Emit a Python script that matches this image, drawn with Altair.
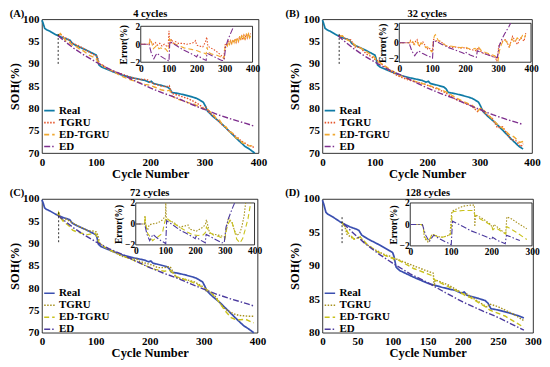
import altair as alt
import pandas as pd

FONT = "Liberation Serif"
SERIES = ["Real", "TGRU", "ED-TGRU", "ED"]
COLORS_AB = ["#0f7ba6", "#e5552b", "#f0a830", "#7e2f8e"]
COLORS_CD = ["#3a4fb0", "#a8921e", "#c9c21a", "#4b3a9e"]
DASHES = [[1, 0], [1.5, 1.5], [5, 3], [6, 2, 1.5, 2]]

# ---------------- shared measured capacity (Real) ----------------
REAL_CYCLE = [0, 2, 5, 8, 15, 25, 30, 40, 48, 52, 56, 65, 80, 95, 100, 102, 105, 110, 120, 130,
              150, 170, 190, 198, 202, 206, 220, 232, 236, 240, 250, 265, 280, 287, 290, 298, 302,
              306, 315, 330, 345, 360, 375, 383, 393]
REAL_SOH = [99.8, 99.2, 98.0, 97.7, 97.3, 96.6, 96.3, 95.8, 95.5, 95.3, 94.6, 94.0, 93.2, 92.3, 92.0,
            91.4, 89.8, 89.3, 88.8, 88.3, 87.4, 86.8, 86.3, 85.9, 86.1, 85.6, 85.2, 84.8, 84.4, 83.6,
            83.4, 83.0, 82.5, 82.2, 82.0, 81.4, 80.5, 79.4, 78.3, 76.8, 75.0, 73.2, 71.5, 70.9, 70.0]

# ---------------- ED (same in every panel) ----------------
ED_CYCLE = [30, 45, 60, 80, 100, 125, 150, 175, 200, 225, 250, 275, 287, 300, 325, 350, 375, 383, 393]
ED_SOH = [96.3, 94.8, 93.4, 91.8, 90.4, 88.8, 87.5, 86.0, 84.6, 83.4, 82.3, 81.0, 80.4, 79.8, 78.6,
          77.6, 76.7, 76.4, 76.0]
ED_ERR_CYCLE = [0, 30, 33, 38, 47, 52, 58, 70, 85, 97, 101, 104, 115, 130, 150, 170, 190, 200, 203,
                215, 234, 237, 250, 270, 290, 298, 304, 312, 320, 327, 333, 338]
ED_ERR = [0, 0, -0.4, -1.0, -1.6, -1.3, -1.0, -1.3, -1.6, -1.8, -1.9, 0.3, 0.1, -0.2, -0.6, -0.9,
          -1.2, -1.4, -1.2, -1.5, -1.8, -1.0, -1.2, -1.5, -1.8, -1.8, -0.3, 0.5, 1.1, 1.6, 2.0, 2.4]

# ---------------- (A) 4 cycles ----------------
A_TGRU_CYCLE = [30, 34, 40, 47, 55, 62, 70, 78, 85, 92, 98, 102, 106, 112, 120, 130, 140, 150, 160, 170,
                180, 190, 195, 200, 210, 220, 230, 235, 240, 250, 260, 270, 280, 290, 297, 303, 308,
                314, 320, 326, 332, 338, 344, 350, 356, 362, 368, 374, 380, 386, 393]
A_TGRU_SOH = [96.3, 96.7, 96.0, 95.6, 94.7, 94.4, 93.9, 93.4, 92.8, 92.3, 91.9, 91.7, 90.0, 89.7, 89.0,
              88.4, 88.0, 87.6, 87.2, 86.8, 86.5, 86.5, 86.4, 85.9, 85.4, 85.0, 84.9, 85.1, 83.4, 83.0,
              82.6, 82.2, 81.6, 80.9, 80.2, 80.3, 79.2, 78.6, 77.9, 77.2, 76.4, 75.9, 75.1, 74.6, 73.9,
              73.4, 72.7, 72.3, 71.8, 71.6, 71.2]
A_EDTGRU_CYCLE = [30, 34, 40, 45, 50, 56, 62, 70, 78, 86, 94, 100, 104, 110, 118, 126, 134, 142, 150,
                  160, 170, 180, 190, 200, 210, 220, 230, 236, 240, 250, 260, 270, 280, 290, 298, 304,
                  310, 316, 322, 328, 334, 340, 346, 352, 358, 364, 370, 376, 382, 388, 393]
A_EDTGRU_SOH = [96.3, 96.8, 95.9, 95.0, 94.9, 94.2, 94.0, 93.3, 92.8, 92.0, 91.6, 91.2, 90.4, 89.8,
                89.0, 88.7, 88.1, 87.6, 87.1, 86.6, 86.2, 85.8, 85.4, 85.2, 84.7, 84.2, 83.9, 84.1,
                82.8, 82.1, 81.8, 81.3, 81.0, 80.4, 79.9, 80.1, 79.3, 78.8, 77.7, 77.4, 76.2, 75.9,
                74.8, 74.5, 73.4, 73.2, 72.3, 72.1, 71.6, 71.6, 71.3]
A_TGRU_ERR_CYCLE = [0, 30, 33, 38, 45, 52, 60, 68, 76, 84, 92, 98, 101, 103, 106, 110, 116, 124, 135,
                    150, 165, 180, 190, 196, 200, 210, 222, 232, 236, 240, 250, 262, 275, 287, 297,
                    301, 305, 309, 313, 317, 321, 325, 329, 333, 337, 341, 345, 349, 353, 357, 361,
                    365, 369, 373, 377, 381, 385, 389, 393]
A_TGRU_ERR = [0, 0, 0.5, 0.2, 0.0, 0.2, -0.1, 0.1, -0.2, 0.0, -0.2, -0.3, 1.5, 0.5, 0.2, 0.6, 0.1, 0.3,
              0.1, 0.1, 0.0, 0.1, 0.2, 0.4, -0.1, -0.2, -0.3, 0.3, 0.8, -0.2, -0.4, -0.6, -0.9, -1.2,
              -1.6, -0.1, 0.1, -0.2, 0.3, 0.0, 0.4, 0.1, 0.5, 0.2, 0.6, 0.2, 0.7, 0.3, 0.8, 0.4, 0.9,
              0.5, 1.0, 0.6, 1.1, 0.7, 1.2, 0.8, 1.2]
A_EDTGRU_ERR_CYCLE = [0, 30, 34, 40, 45, 52, 58, 65, 72, 80, 88, 96, 100, 103, 108, 115, 125, 140, 155,
                      170, 185, 200, 215, 228, 234, 237, 242, 255, 270, 285, 298, 302, 306, 310, 314,
                      318, 322, 326, 330, 334, 338, 342, 346, 350, 354, 358, 362, 366, 370, 374, 378,
                      382, 386, 390, 394]
A_EDTGRU_ERR = [0, 0, 0.6, 0.1, -0.5, -0.3, -0.1, -0.5, -0.4, -0.6, -0.5, -0.8, -0.8, 0.6, 0.4, 0.2,
                0.0, -0.2, -0.4, -0.5, -0.6, -0.7, -0.9, -1.0, -1.1, -0.3, -0.9, -1.1, -1.2, -1.4,
                -1.6, -0.3, 0.0, -0.2, 0.3, 0.0, 0.5, 0.1, 0.6, 0.2, 0.7, 0.3, 0.8, 0.3, 0.9, 0.4,
                1.0, 0.5, 1.1, 0.5, 1.2, 0.6, 1.3, 0.7, 1.0]

# ---------------- (B) 32 cycles ----------------
B_TGRU_CYCLE = [32, 36, 44, 54, 62, 72, 84, 94, 99, 104, 109, 124, 144, 164, 194, 214, 234, 239, 254,
                270, 284, 296, 302, 309, 324, 334, 344, 359, 369, 379, 383]
B_TGRU_SOH = [96.2, 96.4, 95.6, 95.4, 93.8, 93.7, 92.2, 91.6, 91.1, 90.8, 90.4, 88.8, 87.3, 86.4, 85.5,
              84.6, 83.6, 83.2, 82.1, 81.3, 80.6, 79.3, 80.1, 79.0, 77.8, 75.7, 75.9, 73.1, 72.8, 71.4,
              72.1]
B_EDTGRU_CYCLE = [32, 38, 46, 56, 64, 74, 86, 96, 100, 105, 110, 126, 146, 166, 196, 216, 232, 240, 256,
                  272, 286, 297, 303, 311, 326, 336, 346, 356, 366, 376, 383]
B_EDTGRU_SOH = [96.2, 96.3, 95.5, 94.9, 94.0, 93.5, 92.6, 91.8, 91.4, 90.5, 90.3, 89.0, 87.5, 86.5,
                85.4, 84.7, 83.9, 83.5, 82.3, 81.4, 80.7, 79.5, 80.2, 79.2, 77.4, 76.2, 75.4, 74.2,
                73.6, 72.4, 72.6]
B_TGRU_ERR_CYCLE = [0, 32, 34, 40, 44, 50, 54, 58, 62, 68, 72, 78, 84, 90, 94, 99, 102, 104, 109, 115,
                    124, 134, 144, 154, 164, 174, 184, 194, 204, 214, 224, 234, 239, 246, 254, 264,
                    274, 284, 292, 296, 299, 302, 309, 316, 324, 330, 334, 340, 344, 352, 359, 364,
                    369, 374, 379, 384]
B_TGRU_ERR = [0, 0, 0.3, 0.0, -0.2, 0.2, 0.4, -0.1, -0.4, 0.0, 0.1, -0.3, -0.8, -0.6, -0.8, -1.0, -0.6,
              0.4, 0.3, 0.2, 0.2, -0.1, -0.4, -0.5, -0.6, -0.5, -0.7, -0.6, -0.7, -0.8, -0.9, -1.0,
              -0.6, -1.0, -1.25, -1.4, -1.5, -1.7, -1.8, -2.3, -1.5, -0.4, 0.0, 0.3, 0.4, -0.2, -0.6,
              0.3, 0.8, 0.2, -0.2, 0.3, 0.6, 0.4, 0.2, 1.2]
B_EDTGRU_ERR_CYCLE = [0, 32, 36, 42, 48, 55, 60, 66, 74, 80, 86, 92, 98, 101, 104, 107, 110, 118, 128,
                      140, 155, 170, 185, 200, 215, 230, 236, 240, 250, 262, 276, 290, 297, 300, 304,
                      310, 318, 326, 334, 342, 350, 358, 366, 374, 380, 384]
B_EDTGRU_ERR = [0, 0, 0.4, 0.1, -0.3, 0.1, -0.5, 0.0, -0.2, -0.6, -0.5, -0.8, -1.1, -1.0, 0.4, 0.9,
                1.0, 0.3, 0.0, -0.3, -0.4, -0.5, -0.6, -0.5, -0.8, -0.7, -0.9, -0.5, -1.0, -1.2, -1.4,
                -1.6, -1.9, -2.2, -1.0, -0.2, 0.4, 0.1, -0.5, 0.5, 0.0, 0.6, 0.3, 0.9, 0.6, 1.0]

# ---------------- (C) 72 cycles ----------------
C_TGRU_CYCLE = [30, 31, 34, 40, 45, 55, 68, 85, 96, 101, 104, 107, 115, 130, 147, 165, 176, 181, 195,
                204, 215, 227, 235, 238, 249, 265, 283, 300, 306, 312, 318, 323, 332, 340, 350, 357,
                365, 374, 383, 393]
C_TGRU_SOH = [96.3, 97.0, 95.8, 95.2, 95.5, 94.8, 93.9, 92.9, 92.8, 92.6, 91.8, 90.1, 89.3, 88.4, 87.2,
              86.6, 86.5, 86.0, 85.5, 85.2, 84.6, 84.6, 84.8, 84.8, 82.4, 82.0, 81.4, 80.2, 79.2, 79.3,
              78.5, 78.0, 76.3, 75.3, 74.6, 74.2, 73.9, 73.8, 73.7, 73.7]
C_EDTGRU_CYCLE = [30, 31, 35, 40, 50, 57, 65, 74, 85, 96, 100, 102, 106, 115, 130, 159, 175, 193, 210,
                  227, 238, 249, 261, 280, 300, 312, 323, 332, 340, 351, 360, 368, 378, 393]
C_EDTGRU_SOH = [96.3, 96.9, 95.7, 94.9, 94.0, 93.0, 92.6, 92.3, 92.0, 92.3, 92.2, 91.5, 90.2, 89.3,
                88.3, 86.8, 86.0, 85.0, 84.2, 83.8, 84.0, 82.6, 82.1, 81.3, 80.1, 79.2, 77.8, 76.3,
                74.9, 73.4, 72.9, 72.9, 73.0, 72.2]
C_TGRU_ERR_CYCLE = [0, 30, 31, 34, 40, 45, 55, 68, 85, 96, 100, 101, 103, 115, 130, 147, 165, 176, 181,
                    195, 204, 215, 227, 235, 238, 249, 265, 283, 300, 306, 312, 318, 323, 332, 340,
                    350, 357, 365, 370]
C_TGRU_ERR = [0, 0, 0.8, -0.3, -0.6, -0.1, 0.0, 0.05, 0.25, 0.6, 0.7, 2.0, 0.4, 0.3, 0.1, -0.3, -0.2,
              -0.1, -0.5, -0.6, -0.7, -0.5, -0.3, 0.0, 0.4, -0.9, -1.0, -1.1, -1.25, -0.3, 0.6, 0.3,
              0.25, -0.6, -1.1, -0.9, -0.3, 0.8, 2.0]
C_EDTGRU_ERR_CYCLE = [0, 30, 31, 35, 40, 50, 57, 65, 74, 85, 91, 96, 100, 102, 115, 130, 159, 175, 193,
                      210, 227, 235, 238, 249, 261, 280, 300, 306, 312, 318, 323, 332, 340, 351, 360,
                      368, 378, 387]
C_EDTGRU_ERR = [0, 0, 0.7, -0.2, -0.9, -1.3, -1.6, -1.4, -1.25, -1.0, -0.7, 0.0, 0.4, 0.6, 0.3, 0.0,
                -0.5, -0.8, -1.05, -1.1, -1.05, -0.8, -0.3, -0.8, -1.05, -1.2, -1.45, -0.5, 0.05, 0.4,
                0.3, -0.6, -1.45, -1.8, -1.4, -0.6, 0.5, 2.0]

# ---------------- (D) 128 cycles ----------------
D_TGRU_CYCLE = [28, 30, 32, 35, 45, 54, 60, 75, 90, 98, 102, 106, 130, 150, 158, 159, 161, 180, 198,
                203, 206, 220, 235, 238, 250, 270, 287]
D_TGRU_SOH = [96.4, 96.3, 95.9, 94.7, 94.0, 94.3, 93.4, 92.4, 91.6, 91.4, 90.9, 91.0, 90.0, 89.2, 88.9,
              87.0, 87.9, 87.1, 86.0, 85.7, 85.8, 84.8, 83.8, 84.3, 83.9, 82.9, 81.8]
D_EDTGRU_CYCLE = [28, 32, 36, 45, 54, 65, 80, 95, 100, 103, 106, 130, 155, 160, 200, 204, 210, 235, 238,
                  260, 287]
D_EDTGRU_SOH = [96.4, 95.9, 95.0, 94.0, 94.3, 93.1, 92.0, 91.3, 91.1, 91.1, 91.0, 89.6, 88.6, 87.9,
                85.8, 85.5, 85.3, 83.7, 83.4, 82.5, 80.8]
D_TGRU_ERR_CYCLE = [0, 28, 32, 35, 45, 54, 60, 75, 90, 98, 102, 106, 130, 150, 158, 159, 161, 180, 198,
                    203, 206, 220, 235, 238, 250, 270, 287]
D_TGRU_ERR = [0, 0, -0.2, -1.3, -1.7, -0.9, -1.0, -1.2, -1.1, -0.9, 1.1, 1.3, 1.7, 1.8, 1.8, -0.2, 0.9,
              0.5, 0.0, -0.4, 0.0, -0.4, -0.9, 0.7, 0.5, 0.0, -0.4]
D_EDTGRU_ERR_CYCLE = [0, 28, 32, 36, 45, 54, 65, 80, 95, 100, 103, 106, 130, 155, 160, 200, 204, 210,
                      235, 238, 260, 287]
D_EDTGRU_ERR = [0, 0, -0.3, -1.2, -1.6, -0.9, -1.1, -1.2, -1.0, -0.9, 1.0, 1.2, 1.3, 1.3, 0.8, -0.1,
                -0.5, -0.3, -0.9, -0.2, -0.7, -1.4]


def long_df(items, col):
    rows = []
    for name, xs, ys in items:
        for i, (x, y) in enumerate(zip(xs, ys)):
            rows.append({"series": name, "cycle": x, col: y, "idx": i})
    return pd.DataFrame(rows)


def cut(xs, ys, xmax, ymax=1e9):
    px, py = [], []
    for x, y in zip(xs, ys):
        if x <= xmax and y <= ymax + 1e-9:
            px.append(x)
            py.append(y)
    return px, py


def make_panel(p):
    W, H = p["w"], p["h"]
    cs = alt.Scale(domain=SERIES, range=p["colors"])
    ds = alt.Scale(domain=SERIES, range=DASHES)
    leg = alt.Legend(title=None, orient="none", legendX=1, legendY=p["legy"], symbolType="stroke",
                     symbolSize=110, symbolStrokeWidth=1.6, labelFont=FONT, labelFontSize=11,
                     labelFontWeight="bold", labelColor="black", rowPadding=0, labelOffset=3,
                     padding=0)
    x_main = alt.X("cycle:Q", scale=alt.Scale(domain=[0, p["xmax"]], nice=False, zero=False),
                   axis=alt.Axis(values=p["xticks"], title="Cycle Number", orient="bottom",
                                 labelFlush=False, labelOverlap=False))
    y_main = alt.Y("value:Q", scale=alt.Scale(domain=[p["ymin"], 100], nice=False, zero=False),
                   axis=alt.Axis(values=p["yticks"], title="SOH(%)", orient="left", titlePadding=1,
                                 labelOverlap=False))
    rx, ry = cut(REAL_CYCLE, REAL_SOH, p["end"])
    ex, ey = cut(ED_CYCLE, ED_SOH, p["end"])
    main_df = long_df([("Real", rx, ry), ("TGRU", p["tgru"][0], p["tgru"][1]),
                       ("ED-TGRU", p["edtgru"][0], p["edtgru"][1]), ("ED", ex, ey)], "value")
    layers = []
    for s, sw in zip(SERIES, [1.7, 1.4, 1.4, 1.4]):
        layers.append(
            alt.Chart(main_df).transform_filter(alt.datum.series == s)
            .mark_line(strokeWidth=sw)
            .encode(x=x_main, y=y_main,
                    color=alt.Color("series:N", scale=cs, legend=leg),
                    strokeDash=alt.StrokeDash("series:N", scale=ds, legend=leg),
                    order=alt.Order("idx:Q"))
        )
    rule_df = pd.DataFrame({"cycle": [p["start"]], "value": [p["vline"][0]], "value2": [p["vline"][1]]})
    rule = alt.Chart(rule_df).mark_rule(color="black", strokeWidth=0.8, strokeDash=[2, 2]).encode(
        x=x_main, y=y_main, y2="value2:Q")
    txt_df = pd.DataFrame({"t": [p["label"], p["title"]], "px": [p["lx"], W / 2]})
    texts = alt.Chart(txt_df).mark_text(
        font=FONT, fontSize=10.5, fontWeight="bold", color="black", align="center",
        baseline="middle").encode(text="t:N", x=alt.X("px:Q", scale=None), y=alt.value(-5.5))
    main = alt.layer(*layers, rule, texts)

    xl, xr = p["ix"]
    yt, yb = p["iy"]
    em = p["emax"]
    x_in = alt.X("cycle:Q", scale=alt.Scale(domain=[0, p["xmax"]], range=[xl, xr], nice=False, zero=False),
                 axis=alt.Axis(values=p["ixticks"], orient="bottom", offset=yb - H, title=None,
                               labelFontSize=9.5, labelPadding=1, labelFlush=False,
                               labelOverlap=False))
    y_in = alt.Y("err:Q", scale=alt.Scale(domain=[-em, em], range=[yb, yt], nice=False, zero=False),
                 axis=alt.Axis(values=[-2, 0, 2], orient="left", offset=-xl, title="Error(%)",
                               titleFontSize=9.5, labelFontSize=9.5, labelPadding=1, titlePadding=1,
                               labelOverlap=False))
    rect_df = pd.DataFrame({"cycle": [0], "cycle2": [p["xmax"]], "err": [-em], "err2": [em]})
    rect = alt.Chart(rect_df).mark_rect(fill="white", stroke="black", strokeWidth=0.8).encode(
        x=x_in, x2="cycle2:Q", y=y_in, y2="err2:Q")
    edx, edy = cut(ED_ERR_CYCLE, ED_ERR, p["end"], em)
    in_df = long_df([("TGRU", p["tgru_err"][0], p["tgru_err"][1]),
                     ("ED-TGRU", p["edtgru_err"][0], p["edtgru_err"][1]),
                     ("ED", edx, edy)], "err")
    in_layers = [rect]
    for s in ["TGRU", "ED-TGRU", "ED"]:
        in_layers.append(
            alt.Chart(in_df).transform_filter(alt.datum.series == s)
            .mark_line(strokeWidth=1.1)
            .encode(x=x_in, y=y_in,
                    color=alt.Color("series:N", scale=cs, legend=None),
                    strokeDash=alt.StrokeDash("series:N", scale=ds, legend=None),
                    order=alt.Order("idx:Q"))
        )
    inset = alt.layer(*in_layers)
    return alt.layer(main, inset).resolve_scale(
        x="independent", y="independent", color="independent", strokeDash="independent"
    ).properties(width=W, height=H)


X400 = [0, 100, 200, 300, 400]
Y70 = [70, 75, 80, 85, 90, 95, 100]

pA = make_panel(dict(w=217, h=134, colors=COLORS_AB, legy=85, xmax=400, xticks=X400, ymin=70,
                     yticks=Y70, end=393, start=30, vline=[90, 97], label="(A)", lx=-25,
                     title="4 cycles", ix=[99, 211], iy=[7, 43], ixticks=X400, emax=2.0,
                     tgru=(A_TGRU_CYCLE, A_TGRU_SOH), edtgru=(A_EDTGRU_CYCLE, A_EDTGRU_SOH),
                     tgru_err=(A_TGRU_ERR_CYCLE, A_TGRU_ERR),
                     edtgru_err=(A_EDTGRU_ERR_CYCLE, A_EDTGRU_ERR)))
pB = make_panel(dict(w=210, h=134, colors=COLORS_AB, legy=85, xmax=400, xticks=X400, ymin=70,
                     yticks=Y70, end=383, start=32, vline=[90, 97], label="(B)", lx=-30,
                     title="32 cycles", ix=[77, 209], iy=[4, 43], ixticks=X400, emax=2.4,
                     tgru=(B_TGRU_CYCLE, B_TGRU_SOH), edtgru=(B_EDTGRU_CYCLE, B_EDTGRU_SOH),
                     tgru_err=(B_TGRU_ERR_CYCLE, B_TGRU_ERR),
                     edtgru_err=(B_EDTGRU_ERR_CYCLE, B_EDTGRU_ERR)))
pC = make_panel(dict(w=216, h=134, colors=COLORS_CD, legy=88, xmax=400, xticks=X400, ymin=70,
                     yticks=Y70, end=393, start=31, vline=[90.3, 97], label="(C)", lx=-25,
                     title="72 cycles", ix=[94, 213], iy=[4, 46], ixticks=X400, emax=2.0,
                     tgru=(C_TGRU_CYCLE, C_TGRU_SOH), edtgru=(C_EDTGRU_CYCLE, C_EDTGRU_SOH),
                     tgru_err=(C_TGRU_ERR_CYCLE, C_TGRU_ERR),
                     edtgru_err=(C_EDTGRU_ERR_CYCLE, C_EDTGRU_ERR)))
pD = make_panel(dict(w=211, h=134, colors=COLORS_CD, legy=88, xmax=300, xticks=[0, 50, 100, 150, 200, 250, 300],
                     ymin=80, yticks=[80, 85, 90, 95, 100], end=287, start=28, vline=[93.4, 97.5],
                     label="(D)", lx=-30, title="128 cycles", ix=[88, 210], iy=[4, 47],
                     ixticks=[0, 100, 200, 300], emax=2.0,
                     tgru=(D_TGRU_CYCLE, D_TGRU_SOH), edtgru=(D_EDTGRU_CYCLE, D_EDTGRU_SOH),
                     tgru_err=(D_TGRU_ERR_CYCLE, D_TGRU_ERR),
                     edtgru_err=(D_EDTGRU_ERR_CYCLE, D_EDTGRU_ERR)))

ind = dict(color="independent", strokeDash="independent")
row1 = alt.hconcat(pA, pB, spacing=17).resolve_scale(**ind)
row2 = alt.hconcat(pC, pD, spacing=18).resolve_scale(**ind)
chart = alt.vconcat(row1, row2, spacing=8).resolve_scale(**ind).properties(
    padding=0
).configure_view(stroke="black", strokeWidth=0.8).configure_axis(
    labelFont=FONT, titleFont=FONT, labelFontWeight="bold", titleFontWeight="bold",
    labelColor="black", titleColor="black", grid=False, domain=False, ticks=False,
    labelFontSize=11, titleFontSize=12.5, labelPadding=3, titlePadding=0
)

chart.save("out.html", embed_options={"renderer": "svg", "actions": False})
